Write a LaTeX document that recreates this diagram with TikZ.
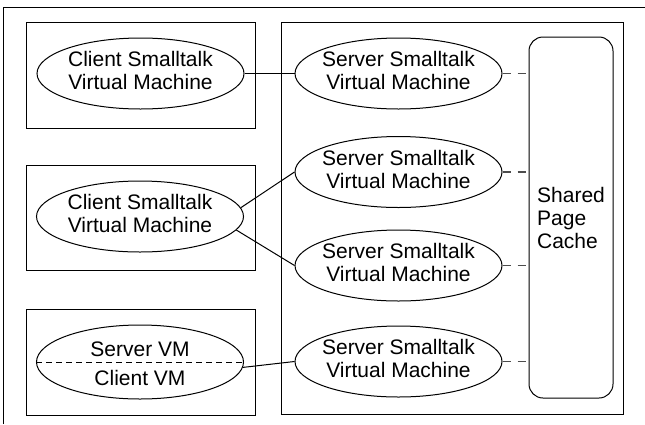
\documentclass[tikz,border=0pt]{standalone}
\usepackage{fontspec}
\setmainfont{Liberation Sans}
\usetikzlibrary{shapes.geometric}
\newcommand{\vmfont}{\fontsize{21}{23}\selectfont}
\newcommand{\twolines}[2]{\makebox[0pt]{\begin{tabular}{@{}c@{}}#1\\#2\end{tabular}}}
\begin{document}
\begin{tikzpicture}[x=1pt,y=-1pt,
  box/.style={draw, line width=1pt, inner sep=0pt},
  vm/.style={draw, ellipse, line width=1pt, minimum width=207pt, minimum height=71pt, inner sep=0pt, font=\vmfont},
  link/.style={line width=1pt},
  cachelink/.style={draw=black!70, line width=1.5pt, dash pattern=on 8pt off 7pt},
  splitline/.style={line width=1pt, dash pattern=on 6pt off 4pt},
  lbl/.style={inner sep=0pt, font=\vmfont}]
\useasboundingbox (0,0) rectangle (645,424);
% outer frame
\draw[line width=1pt] (3.5,424) -- (3.5,7) -- (645,7);
% containers
\node[box, minimum width=229.5pt, minimum height=106pt] (cb1) at (140.75,75) {};
\node[box, minimum width=229.5pt, minimum height=105pt] (cb2) at (140.75,218) {};
\node[box, minimum width=229.5pt, minimum height=106.5pt] (cb3) at (140.75,362.5) {};
\node[box, minimum width=342pt, minimum height=391.5pt] (sb) at (452,218.5) {};
% shared page cache
\node[box, rounded corners=14pt, minimum width=84pt, minimum height=361pt, align=left, font=\vmfont] (cache) at (571,217.5) {Shared\\Page\\Cache};
% client VMs
\node[vm] (C1) at (140.5,73.5) {\twolines{Client Smalltalk}{Virtual Machine}};
\node[vm] (C2) at (140,216.5) {\twolines{Client Smalltalk}{Virtual Machine}};
\node[vm, minimum height=74pt] (C3) at (140,362) {};
\draw[splitline] (C3.west) -- (C3.east);
\node[lbl] (C3s) at (140,349) {Server VM};
\node[lbl] (C3c) at (140,377.5) {Client VM};
% server VMs
\node[vm] (S1) at (398.5,73.5) {\twolines{Server Smalltalk}{Virtual Machine}};
\node[vm] (S2) at (398.5,172) {\twolines{Server Smalltalk}{Virtual Machine}};
\node[vm] (S3) at (398.5,265.5) {\twolines{Server Smalltalk}{Virtual Machine}};
\node[vm] (S4) at (398.5,361.5) {\twolines{Server Smalltalk}{Virtual Machine}};
% links
\draw[link] (C1.east) -- (S1.west);
\draw[link] (C2.5) -- (S2.west);
\draw[link] (C2.-8) -- (S3.west);
\draw[link] (C3.-3) -- (S4.west);
% cache links
\foreach \s in {S1,S2,S3,S4}
  \draw[cachelink] (\s.east) -- (\s.east -| cache.west);
\end{tikzpicture}
\end{document}
